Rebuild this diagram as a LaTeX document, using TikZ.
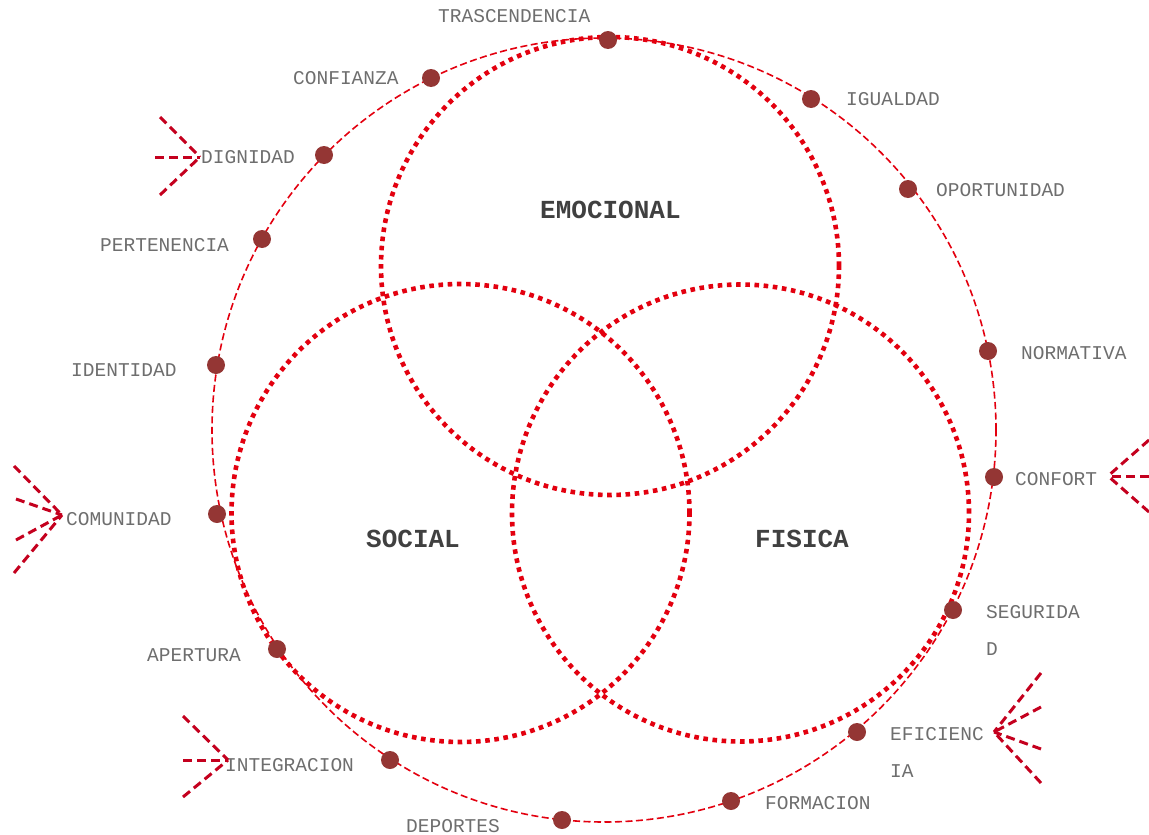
\documentclass[tikz,border=0pt]{standalone}
\usepackage{fontspec}
\setmainfont{Liberation Mono}
\definecolor{dotred}{HTML}{943634}
\definecolor{ringred}{HTML}{E3000F}
\definecolor{arrred}{HTML}{C4001E}
\definecolor{labgray}{HTML}{6E6E6E}
\definecolor{boldgray}{HTML}{404040}
\begin{document}
\begin{tikzpicture}[x=1pt,y=-1pt,
  ring/.style={draw=ringred,line width=1.6pt,dash pattern=on 7pt off 3.5pt},
  venn/.style={draw=ringred,line width=4.6pt,dash pattern=on 4.6pt off 4.6pt},
  pt/.style={circle,fill=dotred,minimum size=18pt,inner sep=0pt},
  lab/.style={text=labgray,inner sep=0pt,font=\fontsize{19.5}{37}\selectfont,align=left},
  big/.style={text=boldgray,inner sep=0pt,font=\fontsize{26}{30}\selectfont\bfseries},
  fan/.style={draw=arrred,line width=3pt,dash pattern=on 9pt off 5pt}]
\useasboundingbox (0,0) rectangle (1149,835);
% outer ring
\node[ring,circle,minimum size=784pt,inner sep=0pt] (outer) at (604,430) {};
% venn circles
\node[venn,circle,minimum size=458pt,inner sep=0pt] (emo) at (610,266) {};
\node[venn,circle,minimum size=458pt,inner sep=0pt] (soc) at (460.5,513) {};
\node[venn,circle,minimum size=457pt,inner sep=0pt] (fis) at (740.5,513) {};
\node[big,anchor=west] (temo) at (540,210) {EMOCIONAL};
\node[big,anchor=west] (tsoc) at (366,539) {SOCIAL};
\node[big,anchor=west] (tfis) at (755,539) {FISICA};
% dots
\node[pt] (d1) at (608,40) {};
\node[pt] (d2) at (431,78) {};
\node[pt] (d3) at (811,99) {};
\node[pt] (d4) at (324,155) {};
\node[pt] (d5) at (908,189) {};
\node[pt] (d6) at (262,239) {};
\node[pt] (d7) at (988,351) {};
\node[pt] (d8) at (216,365) {};
\node[pt] (d9) at (994,477) {};
\node[pt] (d10) at (217,514) {};
\node[pt] (d11) at (953,610) {};
\node[pt] (d12) at (277,649) {};
\node[pt] (d13) at (857,732) {};
\node[pt] (d14) at (390,760) {};
\node[pt] (d15) at (731,801) {};
\node[pt] (d16) at (562,820) {};
% labels
\node[lab,anchor=west] (l1) at (438,16) {TRASCENDENCIA};
\node[lab,anchor=west] (l2) at (293,78) {CONFIANZA};
\node[lab,anchor=west] (l3) at (846,99) {IGUALDAD};
\node[lab,anchor=west] (l4) at (201,157) {DIGNIDAD};
\node[lab,anchor=west] (l5) at (936,190) {OPORTUNIDAD};
\node[lab,anchor=west] (l6) at (100,245) {PERTENENCIA};
\node[lab,anchor=west] (l7) at (1021,353) {NORMATIVA};
\node[lab,anchor=west] (l8) at (71,370) {IDENTIDAD};
\node[lab,anchor=west] (l9) at (1015,479) {CONFORT};
\node[lab,anchor=west] (l10) at (66,519) {COMUNIDAD};
\node[lab,anchor=north west] (l11) at (986,605) {SEGURIDA\\D};
\node[lab,anchor=west] (l12) at (147,655) {APERTURA};
\node[lab,anchor=north west] (l13) at (890,727) {EFICIENC\\IA};
\node[lab,anchor=west] (l14) at (225,765) {INTEGRACION};
\node[lab,anchor=west] (l15) at (765,803) {FORMACION};
\node[lab,anchor=west] (l16) at (406,826) {DEPORTES};
% fans
\coordinate (fa) at (200,157);
\coordinate (fa1) at (160,117);
\coordinate (fa2) at (155,157);
\coordinate (fa3) at (160,195);
\draw[fan] (fa1) -- (fa); \draw[fan] (fa2) -- (fa); \draw[fan] (fa3) -- (fa);
\coordinate (fb) at (62,515);
\coordinate (fb1) at (14,466);
\coordinate (fb2) at (16,499);
\coordinate (fb3) at (16,540);
\coordinate (fb4) at (14,573);
\draw[fan] (fb1) -- (fb); \draw[fan] (fb2) -- (fb); \draw[fan] (fb3) -- (fb); \draw[fan] (fb4) -- (fb);
\coordinate (fc) at (1108,476);
\coordinate (fc1) at (1149,440);
\coordinate (fc2) at (1149,476);
\coordinate (fc3) at (1149,512);
\draw[fan] (fc1) -- (fc); \draw[fan] (fc2) -- (fc); \draw[fan] (fc3) -- (fc);
\coordinate (fd) at (994,732);
\coordinate (fd1) at (1041,673);
\coordinate (fd2) at (1041,707);
\coordinate (fd3) at (1041,749);
\coordinate (fd4) at (1041,783);
\draw[fan] (fd1) -- (fd); \draw[fan] (fd2) -- (fd); \draw[fan] (fd3) -- (fd); \draw[fan] (fd4) -- (fd);
\coordinate (fe) at (228,760);
\coordinate (fe1) at (183,716);
\coordinate (fe2) at (183,760);
\coordinate (fe3) at (183,797);
\draw[fan] (fe1) -- (fe); \draw[fan] (fe2) -- (fe); \draw[fan] (fe3) -- (fe);
\end{tikzpicture}
\end{document}
